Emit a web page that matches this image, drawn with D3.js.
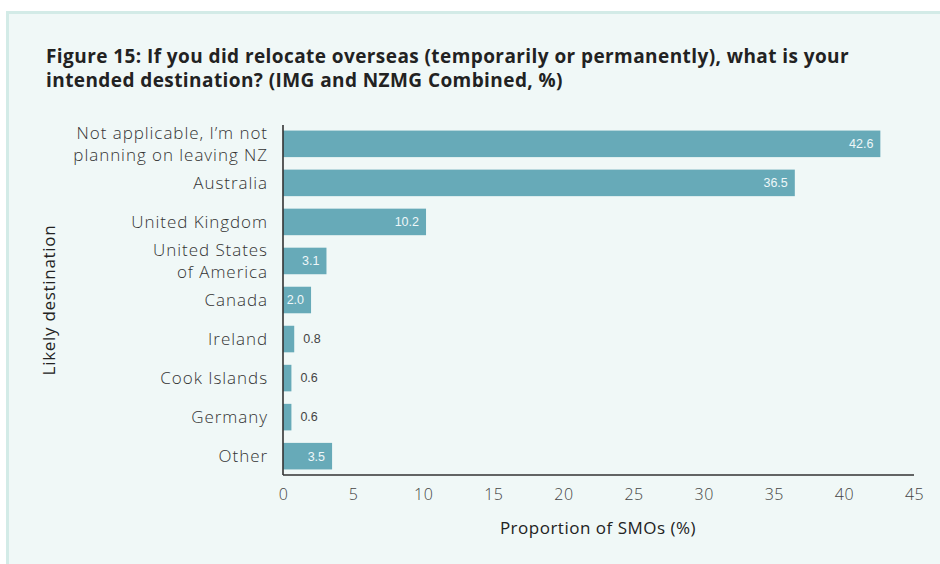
<!DOCTYPE html>
<html>
<head>
<meta charset="utf-8">
<script src="https://cdn.jsdelivr.net/npm/d3@7"></script>
<style>
  html, body { margin: 0; padding: 0; background: #ffffff; }
  svg { display: block; }
</style>
</head>
<body>
<svg id="chart" width="940" height="564"></svg>
<script>
// Intended overseas destination, IMG and NZMG combined (%)
const categories = [
  ["Not applicable, I\u2019m not", "planning on leaving NZ"],
  ["Australia"],
  ["United Kingdom"],
  ["United States", "of America"],
  ["Canada"],
  ["Ireland"],
  ["Cook Islands"],
  ["Germany"],
  ["Other"]
];
const values = [42.6, 36.5, 10.2, 3.1, 2.0, 0.8, 0.6, 0.6, 3.5];
const xTicks = [0, 5, 10, 15, 20, 25, 30, 35, 40, 45];
const titleLines = [
  "Figure 15: If you did relocate overseas (temporarily or permanently), what is your",
  "intended destination? (IMG and NZMG Combined, %)"
];

const W = 940, H = 564;
const plot = { left: 283, right: 914, top: 125, bottom: 475 };
const font = "'Open Sans', 'Noto Sans', sans-serif";
const textColor = "#333333";
const barColor = "#67aab8";

const svg = d3.select("#chart");

// card background
svg.append("rect")
  .attr("x", 7.5).attr("y", 12.5)
  .attr("width", W).attr("height", H)
  .attr("fill", "#f0f8f7")
  .attr("stroke", "#d3ebe7").attr("stroke-width", 3);

// title
svg.append("g").selectAll("text").data(titleLines).join("text")
  .attr("x", 46).attr("y", (d, i) => 63 + i * 24)
  .attr("font-family", font).attr("font-weight", 700)
  .attr("font-size", 19).attr("letter-spacing", 0.42).attr("fill", "#222222")
  .text(d => d);

const data = values.map((v, i) => ({ lines: categories[i], value: v, key: i }));

const x = d3.scaleLinear().domain([0, 45]).range([plot.left, plot.right]);
const y = d3.scaleBand().domain(data.map(d => d.key))
  .range([plot.top, plot.bottom]).paddingInner(0.32).paddingOuter(0.1425);

// bars
svg.append("g").selectAll("rect").data(data).join("rect")
  .attr("x", x(0))
  .attr("y", d => y(d.key))
  .attr("width", d => x(d.value) - x(0))
  .attr("height", y.bandwidth())
  .attr("fill", barColor);

// value labels: inside the bar when it fits, otherwise just past its end
svg.append("g").selectAll("text").data(data).join("text")
  .each(function (d) {
    const inside = d.value >= 1.5;
    d3.select(this)
      .attr("x", inside ? x(d.value) - 7 : x(d.value) + 9)
      .attr("text-anchor", inside ? "end" : "start")
      .attr("fill", inside ? "#eef7f8" : "#444444");
  })
  .attr("y", d => y(d.key) + y.bandwidth() / 2)
  .attr("dy", "0.35em")
  .attr("font-family", "'Liberation Sans', Arial, sans-serif")
  .attr("font-size", 12.5)
  .text(d => d.value.toFixed(1));

// x axis
const xAxis = svg.append("g")
  .attr("transform", `translate(0,${plot.bottom})`)
  .call(d3.axisBottom(x).tickValues(xTicks).tickSize(0).tickPadding(14).tickFormat(d3.format("d")));
xAxis.select(".domain").attr("stroke", "#333333").attr("stroke-width", 1.6)
  .attr("d", `M${plot.left},0H${plot.right}`);
xAxis.selectAll("text")
  .attr("font-family", font).attr("font-size", 16).attr("fill", "#444444").attr("font-weight", 300)
  .attr("letter-spacing", 0.5);

// y axis with wrapped category labels
const yAxis = svg.append("g")
  .attr("transform", `translate(${plot.left},0)`)
  .call(d3.axisLeft(y).tickSize(0).tickFormat(""));
yAxis.select(".domain").attr("stroke", "#333333").attr("stroke-width", 1.6)
  .attr("d", `M0,${plot.top}V${plot.bottom}`);

const labelG = svg.append("g");
data.forEach(d => {
  const cy = y(d.key) + y.bandwidth() / 2;
  const lh = 22;
  const n = d.lines.length;
  const t = labelG.append("text")
    .attr("text-anchor", "end")
    .attr("font-family", font).attr("font-size", 17).attr("fill", textColor)
    .attr("font-weight", 300).attr("letter-spacing", 0.95);
  d.lines.forEach((line, i) => {
    t.append("tspan")
      .attr("x", 268)
      .attr("y", cy + (i - (n - 1) / 2) * lh)
      .attr("dy", "0.35em")
      .text(line);
  });
});

// axis titles
svg.append("text")
  .attr("x", 598).attr("y", 534)
  .attr("text-anchor", "middle")
  .attr("font-family", font).attr("font-size", 17).attr("font-weight", 500)
  .attr("letter-spacing", 0.5)
  .attr("fill", "#222222")
  .text("Proportion of SMOs (%)");

svg.append("text")
  .attr("transform", "translate(55,300) rotate(-90)")
  .attr("text-anchor", "middle")
  .attr("font-family", font).attr("font-size", 17).attr("font-weight", 500)
  .attr("letter-spacing", 0.7)
  .attr("fill", "#222222")
  .text("Likely destination");
</script>
</body>
</html>
